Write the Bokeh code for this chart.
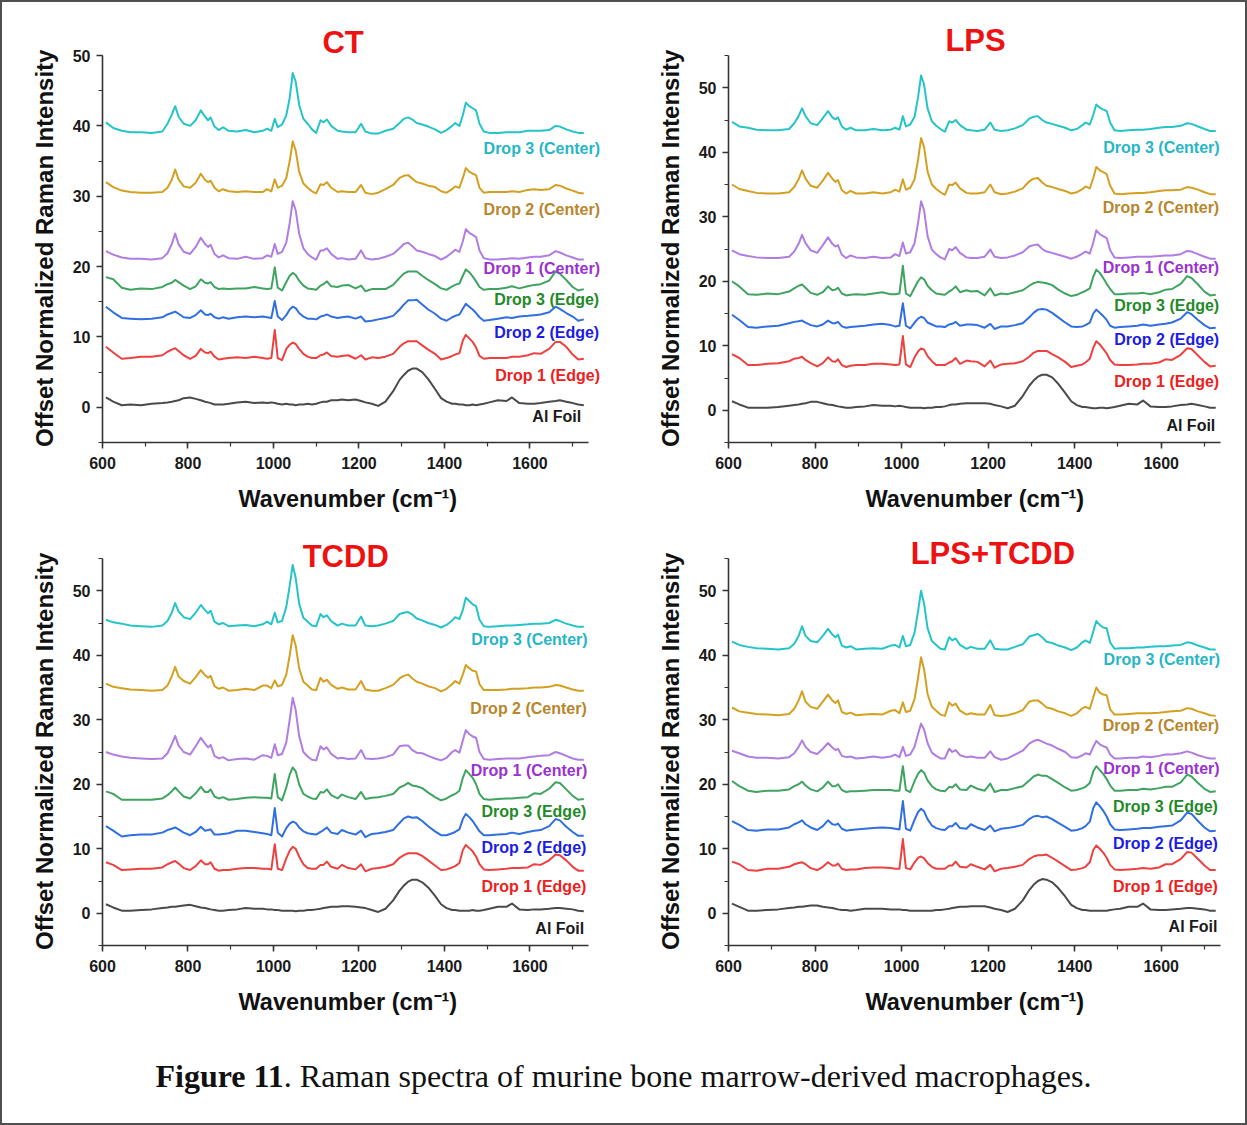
from bokeh.plotting import figure
from bokeh.models import Label, SingleIntervalTicker, Range1d, Div, Title
from bokeh.layouts import row, column
from bokeh.embed import file_html
from bokeh.resources import INLINE

# ---------------- data ----------------
WAVENUMBER = [608, 625, 645, 665, 690, 715, 740, 752, 762, 770,
              778, 790, 805, 818, 830, 840, 847, 853, 862, 872,
              882, 895, 915, 935, 955, 975, 985, 995, 1003, 1010,
              1020, 1030, 1038, 1045, 1052, 1060, 1070, 1080, 1090, 1100,
              1110, 1117, 1125, 1135, 1150, 1160, 1175, 1192, 1205, 1215,
              1230, 1245, 1262, 1280, 1295, 1305, 1315, 1325, 1335, 1348,
              1362, 1378, 1392, 1405, 1418, 1425, 1435, 1443, 1450, 1458,
              1466, 1474, 1482, 1492, 1505, 1525, 1545, 1558, 1575, 1595,
              1610, 1625, 1645, 1660, 1670, 1685, 1700, 1713, 1726]

SERIES_NAMES = ["Al Foil", "Drop 1 (Edge)", "Drop 2 (Edge)", "Drop 3 (Edge)",
                "Drop 1 (Center)", "Drop 2 (Center)", "Drop 3 (Center)"]

# ---- CT ----
CT_D3C = [40.5, 39.7, 39.3, 39.1, 39.1, 39.0, 39.2, 40.3, 41.6, 42.8,
          41.3, 40.3, 40.0, 40.8, 42.2, 41.3, 40.8, 41.2, 39.9, 39.4,
          39.8, 39.3, 39.2, 39.4, 39.1, 39.3, 39.6, 39.3, 41.0, 39.8,
          40.2, 41.5, 44.0, 47.5, 46.3, 43.0, 41.0, 40.3, 39.5, 39.0,
          40.8, 40.5, 40.9, 40.0, 39.3, 39.2, 39.1, 39.1, 40.3, 39.2,
          38.9, 38.9, 39.3, 39.6, 40.4, 41.0, 41.2, 40.9, 40.4, 40.2,
          39.9, 39.5, 39.0, 39.4, 40.0, 40.4, 40.0, 41.5, 43.3, 42.8,
          42.5, 42.2, 40.3, 39.2, 39.0, 39.0, 39.1, 39.1, 39.1, 39.3,
          39.3, 39.3, 39.4, 40.0, 39.9, 39.5, 39.2, 39.0, 39.0]
CT_D2C = [32.0, 31.3, 30.8, 30.6, 30.5, 30.5, 30.6, 31.2, 32.3, 33.8,
          32.4, 31.4, 31.2, 31.9, 33.2, 32.3, 32.0, 32.2, 31.2, 30.7,
          31.0, 30.7, 30.6, 30.7, 30.6, 30.6, 31.0, 30.7, 32.4, 31.2,
          31.5, 32.6, 35.0, 37.8, 36.5, 33.5, 31.8, 31.2, 30.7, 30.4,
          31.7, 31.6, 32.0, 31.2, 30.6, 30.7, 30.6, 30.6, 31.6, 30.5,
          30.3, 30.5, 31.0, 31.6, 32.6, 32.9, 33.0, 32.5, 32.0, 31.8,
          31.5, 31.3, 30.7, 30.5, 31.0, 31.4, 31.2, 32.6, 34.0, 33.5,
          33.2, 33.0, 31.2, 30.5, 30.6, 30.6, 30.6, 30.7, 30.6, 30.9,
          31.0, 30.9, 31.0, 31.6, 31.5, 31.1, 30.8, 30.5, 30.4]
CT_D1C = [22.2, 21.7, 21.3, 21.1, 21.1, 21.0, 21.2, 21.9, 23.2, 24.7,
          23.2, 22.1, 21.8, 22.8, 24.1, 23.2, 22.8, 23.1, 21.8, 21.3,
          21.6, 21.2, 21.1, 21.4, 21.1, 21.2, 21.6, 21.4, 23.2, 21.8,
          22.1, 23.4, 26.2, 29.3, 28.0, 24.7, 22.6, 21.8, 21.3, 21.0,
          22.3, 22.3, 22.6, 21.8, 21.1, 21.2, 21.0, 21.1, 22.3, 21.2,
          21.0, 21.1, 21.4, 21.8, 22.6, 23.2, 23.4, 22.9, 22.3, 22.1,
          21.8, 21.5, 21.0, 21.4, 22.0, 22.4, 22.1, 23.6, 25.3, 24.8,
          24.5, 24.2, 22.3, 21.2, 21.0, 21.0, 21.1, 21.2, 21.1, 21.3,
          21.4, 21.4, 21.6, 22.2, 22.0, 21.6, 21.3, 21.0, 21.0]
CT_D3E = [18.5, 18.2, 17.0, 16.7, 16.9, 16.8, 17.1, 17.5, 17.7, 18.1,
          17.8, 17.3, 16.8, 17.2, 18.2, 17.7, 17.6, 17.8, 17.1, 16.8,
          16.9, 16.8, 16.9, 16.9, 17.1, 16.9, 16.8, 16.9, 19.9, 17.0,
          16.6, 17.8, 18.7, 19.1, 18.8, 18.0, 17.3, 16.9, 16.8, 16.7,
          17.3, 17.5, 17.9, 17.2, 17.1, 17.3, 17.4, 16.9, 17.3, 16.5,
          16.8, 16.8, 16.8, 17.4, 18.4, 19.0, 19.3, 19.3, 19.3, 18.7,
          18.1, 17.5, 16.9, 16.7, 17.2, 17.4, 17.6, 18.7, 19.6, 19.2,
          18.6, 17.9, 17.1, 16.7, 16.8, 16.8, 17.0, 17.2, 16.9, 17.2,
          17.4, 17.5, 18.0, 19.3, 19.0, 18.1, 17.1, 16.6, 16.8]
CT_D2E = [14.3, 13.5, 12.7, 12.6, 12.5, 12.6, 12.8, 13.2, 13.4, 13.6,
          13.3, 12.8, 12.7, 13.1, 13.8, 13.2, 13.1, 13.3, 12.8, 12.6,
          12.8, 12.6, 12.8, 12.9, 12.8, 12.9, 12.8, 12.7, 15.1, 12.9,
          12.4, 13.1, 13.9, 14.3, 14.1, 13.4, 12.9, 12.6, 12.6, 12.5,
          12.9, 13.0, 13.2, 12.9, 12.7, 12.8, 12.9, 12.6, 12.9, 12.2,
          12.3, 12.5, 12.7, 13.0, 13.9, 14.6, 15.2, 15.2, 15.3, 14.6,
          13.9, 13.3, 12.6, 12.3, 12.8, 13.0, 13.2, 14.0, 14.7, 14.3,
          13.9, 13.4, 12.8, 12.3, 12.4, 12.6, 12.8, 12.7, 12.9, 13.0,
          13.1, 13.2, 13.5, 14.3, 14.0, 13.4, 12.9, 12.3, 12.5]
CT_D1E = [8.6, 7.8, 6.9, 7.0, 7.2, 7.2, 7.4, 7.9, 8.2, 8.4,
          8.0, 7.4, 6.9, 7.3, 8.3, 7.8, 7.7, 7.9, 7.2, 6.8,
          6.9, 7.0, 7.1, 7.0, 7.2, 7.0, 6.9, 7.0, 11.0, 7.0,
          6.7, 8.3, 8.9, 9.2, 9.0, 8.3, 7.6, 7.2, 7.0, 7.0,
          7.4, 7.5, 7.8, 7.3, 7.2, 7.3, 7.4, 6.9, 7.4, 6.8,
          7.1, 7.0, 7.2, 7.6, 8.6, 9.1, 9.4, 9.4, 9.4, 8.8,
          8.2, 7.6, 6.8, 7.0, 7.3, 7.5, 7.7, 9.5, 10.3, 9.8,
          9.3, 8.5, 7.3, 6.9, 7.0, 7.0, 7.0, 7.2, 7.2, 7.4,
          7.7, 7.6, 8.3, 9.3, 9.3, 8.6, 7.5, 6.8, 6.9]
CT_AL = [1.4, 0.8, 0.3, 0.4, 0.3, 0.5, 0.6, 0.7, 0.8, 0.9,
         1.0, 1.3, 1.4, 1.2, 1.0, 0.8, 0.7, 0.6, 0.4, 0.4,
         0.4, 0.5, 0.7, 0.8, 0.6, 0.7, 0.6, 0.7, 0.6, 0.5,
         0.4, 0.5, 0.4, 0.4, 0.3, 0.4, 0.4, 0.5, 0.4, 0.5,
         0.7, 0.8, 0.8, 1.0, 1.0, 1.1, 1.0, 1.1, 0.9, 0.7,
         0.5, 0.2, 0.8, 2.3, 3.9, 4.6, 5.2, 5.5, 5.5, 5.0,
         4.0, 2.6, 1.3, 0.8, 0.5, 0.5, 0.4, 0.4, 0.3, 0.3,
         0.4, 0.3, 0.4, 0.5, 0.7, 1.0, 0.9, 1.4, 0.6, 0.5,
         0.5, 0.6, 0.8, 0.9, 1.0, 0.8, 0.6, 0.4, 0.3]

# ---- LPS ----
LPS_D3C = [44.7, 44.0, 43.8, 43.5, 43.4, 43.4, 43.6, 44.5, 45.6, 46.8,
           45.6, 44.5, 44.2, 45.3, 46.4, 45.4, 45.1, 45.4, 44.0, 43.5,
           43.8, 43.4, 43.4, 43.6, 43.4, 43.5, 43.8, 43.5, 45.6, 44.0,
           44.3, 45.5, 48.5, 51.9, 50.5, 46.8, 44.8, 44.1, 43.6, 43.2,
           44.8, 44.6, 45.0, 44.2, 43.5, 43.4, 43.3, 43.5, 44.6, 43.5,
           43.3, 43.4, 43.7, 44.2, 45.2, 45.5, 45.6, 45.0, 44.6, 44.4,
           44.1, 43.8, 43.4, 43.6, 44.2, 44.6, 44.3, 45.8, 47.4, 46.9,
           46.6, 46.4, 44.6, 43.4, 43.3, 43.4, 43.5, 43.5, 43.6, 43.8,
           43.9, 43.9, 44.1, 44.5, 44.4, 44.0, 43.6, 43.3, 43.3]
LPS_D2C = [35.0, 34.3, 34.0, 33.7, 33.6, 33.6, 33.8, 34.6, 35.8, 37.2,
           35.9, 34.8, 34.5, 35.6, 36.8, 35.9, 35.4, 35.7, 34.1, 33.6,
           34.0, 33.6, 33.6, 33.8, 33.6, 33.8, 34.2, 33.9, 35.8, 34.2,
           34.5, 35.8, 38.8, 42.2, 40.8, 37.0, 35.0, 34.3, 33.8, 33.4,
           35.0, 34.9, 35.3, 34.4, 33.7, 33.6, 33.6, 33.8, 35.0, 33.8,
           33.5, 33.6, 33.9, 34.4, 35.5, 35.9, 36.0, 35.3, 34.8, 34.6,
           34.3, 34.0, 33.6, 33.8, 34.3, 34.7, 34.4, 36.0, 37.7, 37.2,
           36.9, 36.6, 34.8, 33.6, 33.5, 33.6, 33.7, 33.7, 33.8, 34.0,
           34.1, 34.1, 34.2, 34.6, 34.5, 34.2, 33.8, 33.5, 33.5]
LPS_D1C = [24.8, 24.2, 23.9, 23.7, 23.6, 23.6, 23.8, 24.6, 25.8, 27.2,
           25.9, 24.8, 24.4, 25.6, 26.8, 25.8, 25.4, 25.6, 24.1, 23.6,
           24.0, 23.7, 23.6, 23.8, 23.6, 23.7, 24.2, 23.9, 26.0, 24.3,
           24.5, 25.9, 29.0, 32.4, 31.0, 27.0, 24.9, 24.2, 23.7, 23.4,
           25.0, 24.8, 25.3, 24.4, 23.7, 23.6, 23.6, 23.8, 24.9, 23.8,
           23.6, 23.7, 24.0, 24.5, 25.4, 25.6, 25.7, 25.0, 24.6, 24.4,
           24.1, 23.8, 23.5, 23.8, 24.3, 24.6, 24.3, 26.0, 27.9, 27.3,
           27.0, 26.7, 24.8, 23.7, 23.6, 23.7, 23.8, 23.8, 23.8, 23.9,
           24.0, 24.0, 24.2, 24.7, 24.6, 24.2, 23.8, 23.5, 23.5]
LPS_D3E = [20.0, 19.2, 18.0, 17.9, 18.1, 18.0, 18.4, 18.9, 19.3, 19.5,
           19.0, 18.2, 17.9, 18.3, 19.2, 18.6, 18.7, 19.0, 18.1, 17.8,
           17.9, 18.0, 17.9, 18.1, 18.3, 18.0, 18.0, 18.1, 22.4, 18.1,
           17.7, 19.0, 20.0, 20.6, 20.3, 19.3, 18.6, 18.1, 18.0, 17.9,
           18.4, 18.7, 19.2, 18.3, 18.6, 18.4, 18.5, 17.8, 18.9, 17.8,
           18.1, 18.0, 18.3, 18.6, 19.3, 19.7, 19.9, 19.8, 19.7, 19.4,
           18.7, 18.1, 17.7, 17.9, 18.3, 18.5, 18.9, 20.7, 21.8, 21.3,
           20.5, 19.6, 18.8, 18.0, 18.0, 18.1, 18.1, 18.2, 18.0, 18.3,
           18.7, 18.8, 19.6, 20.8, 20.5, 19.5, 18.4, 17.8, 17.9]
LPS_D2E = [14.8, 14.0, 12.9, 12.8, 13.0, 13.1, 13.5, 13.7, 13.8, 13.9,
           13.6, 13.2, 13.0, 13.3, 13.9, 13.5, 13.5, 13.7, 13.0, 12.8,
           12.9, 13.0, 13.1, 13.3, 13.4, 13.2, 13.0, 13.1, 16.6, 13.1,
           12.7, 13.6, 14.2, 14.5, 14.3, 13.6, 13.3, 13.0, 13.0, 12.9,
           13.3, 13.4, 13.7, 13.1, 13.3, 13.3, 13.2, 12.8, 13.4, 12.6,
           13.0, 13.0, 13.2, 13.5, 14.4, 15.1, 15.6, 15.7, 15.6, 15.1,
           14.4, 13.6, 13.0, 12.9, 13.0, 13.2, 13.6, 15.0, 15.6, 15.1,
           14.6, 14.0, 13.1, 12.8, 12.9, 13.0, 13.1, 13.3, 13.1, 13.3,
           13.4, 13.6, 14.2, 15.2, 14.9, 14.0, 13.2, 12.7, 12.8]
LPS_D1E = [8.7, 8.1, 7.0, 7.0, 7.2, 7.3, 7.6, 8.0, 8.1, 8.3,
           7.8, 7.3, 6.8, 7.3, 8.2, 7.6, 7.5, 7.9, 7.0, 6.7,
           6.9, 7.0, 7.0, 7.2, 7.2, 7.1, 7.0, 7.1, 11.5, 7.1,
           6.7, 8.2, 9.1, 9.6, 9.4, 8.4, 7.6, 7.0, 7.0, 7.0,
           7.4, 7.6, 8.1, 7.2, 7.7, 7.6, 7.5, 6.8, 7.7, 6.6,
           7.1, 7.2, 7.3, 7.6, 8.3, 8.9, 9.2, 9.2, 9.2, 8.7,
           8.2, 7.5, 6.7, 6.9, 7.1, 7.4, 8.0, 9.7, 10.7, 10.2,
           9.5, 8.8, 7.8, 7.1, 7.0, 7.0, 7.1, 7.2, 7.2, 7.4,
           7.9, 7.8, 8.6, 9.6, 9.5, 8.5, 7.5, 6.8, 6.9]
LPS_AL = [1.4, 0.9, 0.4, 0.4, 0.4, 0.5, 0.7, 0.8, 0.9, 1.0,
          1.1, 1.3, 1.3, 1.1, 0.9, 0.8, 0.7, 0.6, 0.5, 0.4,
          0.4, 0.5, 0.6, 0.8, 0.7, 0.7, 0.6, 0.7, 0.6, 0.5,
          0.4, 0.4, 0.4, 0.4, 0.3, 0.4, 0.4, 0.5, 0.5, 0.6,
          0.8, 0.9, 0.9, 1.0, 1.1, 1.1, 1.1, 1.1, 1.0, 0.8,
          0.6, 0.3, 0.7, 2.2, 3.8, 4.6, 5.2, 5.5, 5.5, 5.1,
          4.1, 2.7, 1.4, 0.8, 0.5, 0.5, 0.4, 0.3, 0.3, 0.4,
          0.4, 0.3, 0.4, 0.5, 0.7, 1.0, 0.9, 1.5, 0.6, 0.5,
          0.5, 0.6, 0.8, 0.9, 1.0, 0.8, 0.6, 0.4, 0.4]

# ---- TCDD ----
TCDD_D3C = [45.5, 45.1, 44.9, 44.6, 44.5, 44.4, 44.6, 45.3, 46.6, 48.1,
            46.8, 45.9, 45.6, 46.6, 47.8, 47.0, 46.5, 46.9, 45.2, 44.8,
            45.0, 44.5, 44.6, 44.7, 44.5, 44.8, 45.2, 44.8, 46.6, 45.1,
            45.3, 47.5, 50.8, 54.0, 52.0, 48.0, 45.8, 45.2, 44.6, 44.5,
            46.4, 45.9, 46.2, 45.3, 44.6, 44.9, 44.6, 44.6, 46.0, 44.6,
            44.5, 44.6, 44.9, 45.3, 46.4, 46.6, 46.7, 46.3, 45.7, 45.4,
            45.0, 44.7, 44.3, 44.7, 45.4, 45.9, 45.6, 47.0, 48.9, 48.4,
            47.9, 47.6, 45.5, 44.5, 44.4, 44.5, 44.6, 44.6, 44.7, 44.8,
            44.9, 44.9, 45.0, 45.5, 45.3, 44.9, 44.6, 44.4, 44.4]
TCDD_D2C = [35.6, 35.1, 34.9, 34.7, 34.6, 34.5, 34.6, 35.3, 36.7, 38.2,
            36.7, 36.0, 35.6, 36.6, 37.7, 36.9, 36.5, 36.8, 35.2, 34.8,
            35.0, 34.5, 34.6, 34.8, 34.6, 35.3, 35.3, 34.9, 36.1, 35.2,
            35.4, 37.0, 40.0, 43.1, 41.5, 38.0, 35.9, 35.3, 34.7, 34.6,
            36.5, 35.9, 36.2, 35.4, 34.8, 35.0, 34.7, 34.7, 36.0, 34.7,
            34.5, 34.5, 34.9, 35.4, 36.4, 36.8, 37.0, 36.4, 35.9, 35.6,
            35.2, 34.9, 34.4, 34.8, 35.5, 36.0, 35.6, 37.0, 38.5, 38.0,
            37.6, 37.5, 35.5, 34.6, 34.6, 34.6, 34.7, 34.8, 34.8, 34.9,
            35.0, 35.0, 35.1, 35.4, 35.3, 35.0, 34.7, 34.5, 34.5]
TCDD_D1C = [25.0, 24.6, 24.3, 24.1, 24.0, 23.9, 24.0, 24.8, 26.2, 27.5,
            26.0, 25.0, 24.6, 25.9, 27.2, 26.3, 25.7, 26.1, 24.4, 24.0,
            24.2, 23.7, 23.9, 24.0, 23.8, 24.5, 24.4, 24.1, 26.2, 24.5,
            24.7, 26.5, 30.0, 33.4, 31.5, 27.5, 25.0, 24.3, 23.8, 23.7,
            25.9, 25.4, 25.7, 24.7, 24.0, 24.1, 23.9, 24.0, 25.3, 24.0,
            23.9, 24.0, 24.2, 24.6, 25.9, 26.0, 26.0, 25.3, 24.9, 24.8,
            24.4, 24.0, 23.7, 24.1, 25.0, 25.3, 24.9, 26.8, 28.4, 27.8,
            27.4, 27.2, 25.0, 23.9, 23.8, 23.9, 24.0, 24.0, 24.0, 24.2,
            24.3, 24.4, 24.5, 25.0, 24.8, 24.4, 24.0, 23.8, 23.8]
TCDD_D3E = [18.9, 18.5, 17.6, 17.6, 17.6, 17.6, 17.8, 18.3, 18.9, 19.5,
            18.9, 18.1, 17.8, 18.6, 19.6, 18.8, 18.8, 19.2, 18.1, 17.8,
            18.0, 17.6, 17.7, 17.9, 18.0, 17.9, 17.9, 17.8, 21.6, 18.0,
            17.5, 19.5, 21.5, 22.6, 22.0, 20.0, 18.5, 18.1, 17.8, 17.7,
            18.8, 18.7, 19.2, 18.3, 17.8, 18.4, 18.0, 17.7, 18.8, 17.7,
            17.9, 18.0, 18.2, 18.5, 19.5, 19.8, 20.2, 19.8, 19.7, 19.4,
            18.7, 18.0, 17.5, 17.8, 18.3, 18.5, 19.0, 21.0, 22.2, 21.6,
            21.0, 20.0, 18.5, 17.7, 17.6, 17.7, 17.8, 17.8, 17.9, 18.0,
            18.6, 18.5, 19.3, 20.3, 20.2, 19.2, 18.2, 17.6, 17.7]
TCDD_D2E = [13.5, 12.8, 11.9, 12.1, 12.2, 12.2, 12.5, 12.9, 13.1, 13.3,
            13.0, 12.5, 12.1, 12.6, 13.4, 12.8, 12.9, 13.0, 12.2, 12.2,
            12.3, 12.4, 12.8, 12.8, 12.6, 12.4, 12.3, 12.1, 16.3, 12.5,
            11.9, 13.2, 13.9, 14.2, 14.0, 13.3, 12.7, 12.4, 12.3, 12.2,
            12.6, 12.9, 13.3, 12.5, 12.3, 12.9, 12.5, 12.2, 12.8, 11.8,
            12.3, 12.4, 12.6, 12.9, 14.0, 14.7, 15.0, 14.8, 14.9, 14.3,
            13.5, 12.7, 12.1, 12.1, 12.4, 12.6, 13.0, 14.6, 15.4, 14.9,
            14.3, 13.5, 12.7, 12.1, 12.1, 12.2, 12.3, 12.5, 12.3, 12.6,
            12.8, 12.9, 13.5, 14.6, 14.4, 13.4, 12.6, 12.0, 12.0]
TCDD_D1E = [7.9, 7.5, 6.7, 6.8, 6.9, 6.9, 7.1, 7.6, 7.9, 8.1,
            7.7, 7.0, 6.7, 7.3, 8.2, 7.6, 7.6, 7.9, 6.9, 6.6,
            6.7, 6.7, 6.9, 7.0, 7.0, 6.9, 6.9, 6.8, 10.7, 6.9,
            6.7, 8.5, 9.7, 10.3, 10.0, 8.8, 7.6, 7.0, 6.9, 6.9,
            7.5, 7.5, 8.0, 7.2, 6.9, 7.5, 7.0, 6.8, 7.6, 6.5,
            6.9, 7.0, 7.2, 7.6, 8.6, 9.0, 9.3, 9.3, 9.3, 8.9,
            8.2, 7.4, 6.7, 6.8, 7.1, 7.3, 7.8, 9.8, 10.6, 10.1,
            9.6, 8.8, 7.6, 6.8, 6.7, 6.8, 6.9, 7.0, 7.0, 7.1,
            7.6, 7.5, 8.2, 9.1, 9.0, 8.2, 7.2, 6.6, 6.6]
TCDD_AL = [1.4, 0.9, 0.4, 0.4, 0.5, 0.6, 0.8, 0.9, 1.0, 1.0,
           1.1, 1.2, 1.3, 1.1, 0.9, 0.8, 0.7, 0.6, 0.5, 0.4,
           0.4, 0.5, 0.6, 0.8, 0.7, 0.7, 0.6, 0.6, 0.5, 0.5,
           0.4, 0.4, 0.4, 0.4, 0.3, 0.4, 0.4, 0.5, 0.5, 0.6,
           0.7, 0.8, 0.9, 1.0, 1.0, 1.1, 1.1, 1.0, 0.9, 0.8,
           0.5, 0.2, 0.7, 2.0, 3.5, 4.3, 4.9, 5.2, 5.2, 4.8,
           4.0, 2.7, 1.4, 0.8, 0.5, 0.5, 0.4, 0.4, 0.4, 0.4,
           0.5, 0.4, 0.4, 0.5, 0.7, 1.0, 1.0, 1.5, 0.6, 0.5,
           0.6, 0.6, 0.7, 0.8, 0.8, 0.7, 0.6, 0.4, 0.3]

# ---- LPS+TCDD ----
LT_D3C = [42.1, 41.6, 41.3, 41.1, 41.0, 40.9, 41.1, 41.8, 43.0, 44.5,
          43.0, 42.2, 42.0, 43.0, 44.1, 43.2, 42.8, 43.2, 41.5, 41.2,
          41.4, 40.9, 41.0, 41.1, 41.0, 41.5, 41.6, 41.2, 43.0, 41.4,
          41.6, 43.5, 46.8, 50.0, 48.0, 44.2, 42.2, 41.6, 41.0, 40.9,
          42.8, 42.3, 42.6, 41.6, 41.0, 41.3, 41.0, 41.0, 42.3, 41.0,
          40.9, 40.9, 41.3, 41.7, 42.9, 43.1, 43.3, 42.8, 42.1, 41.9,
          41.5, 41.2, 40.8, 41.2, 42.0, 42.3, 41.9, 43.7, 45.3, 44.7,
          44.3, 44.2, 42.0, 41.0, 41.1, 41.1, 41.2, 41.2, 41.3, 41.4,
          41.4, 41.5, 41.6, 42.0, 41.9, 41.5, 41.2, 40.9, 40.9]
LT_D2C = [31.9, 31.3, 31.1, 30.9, 30.8, 30.7, 30.9, 31.7, 33.0, 34.4,
          32.8, 32.0, 31.7, 32.8, 33.9, 33.0, 32.6, 33.0, 31.2, 30.9,
          31.1, 30.7, 30.8, 30.9, 30.8, 31.4, 31.5, 31.0, 32.7, 31.2,
          31.4, 33.2, 36.5, 39.7, 37.8, 34.0, 32.0, 31.4, 30.8, 30.6,
          32.7, 32.2, 32.5, 31.4, 30.8, 31.0, 30.8, 30.8, 32.3, 30.7,
          30.6, 30.7, 31.0, 31.5, 32.8, 33.0, 33.0, 32.5, 31.9, 31.7,
          31.3, 31.0, 30.6, 31.0, 31.8, 32.0, 31.7, 33.5, 35.0, 34.2,
          33.9, 33.8, 31.6, 30.8, 30.8, 30.9, 31.0, 31.0, 31.0, 31.1,
          31.2, 31.3, 31.4, 31.8, 31.7, 31.3, 31.0, 30.7, 30.6]
LT_D1C = [25.2, 24.8, 24.3, 24.1, 24.1, 24.0, 24.2, 24.8, 25.8, 26.8,
          25.8, 25.0, 24.7, 25.5, 26.4, 25.7, 25.3, 25.5, 24.4, 24.2,
          24.3, 24.0, 24.1, 24.3, 24.1, 24.3, 24.6, 24.2, 25.8, 24.4,
          24.6, 25.8, 27.8, 29.4, 28.5, 26.4, 24.9, 24.4, 24.0, 24.0,
          25.5, 25.0, 25.3, 24.5, 24.2, 24.3, 24.1, 24.1, 25.1, 24.2,
          23.8, 24.0, 24.6, 25.2, 26.3, 26.7, 26.9, 26.6, 26.3, 26.0,
          25.5, 25.0, 24.2, 24.1, 24.5, 24.8, 24.6, 25.8, 26.7, 26.2,
          25.9, 25.7, 24.6, 24.0, 24.0, 24.1, 24.1, 24.3, 24.2, 24.4,
          24.6, 24.6, 24.8, 25.1, 24.9, 24.5, 24.2, 24.0, 24.0]
LT_D3E = [20.5, 19.7, 19.0, 18.8, 19.0, 19.0, 19.2, 19.7, 20.0, 20.4,
          19.8, 19.2, 18.9, 19.5, 20.4, 19.7, 19.7, 20.0, 19.1, 18.8,
          18.9, 18.9, 19.0, 19.1, 19.1, 19.1, 19.0, 19.0, 22.8, 19.1,
          18.8, 20.5, 21.6, 22.2, 21.8, 20.6, 19.7, 19.2, 19.0, 18.9,
          19.6, 19.5, 20.0, 19.2, 19.1, 19.8, 19.3, 19.0, 20.1, 18.8,
          19.1, 19.1, 19.4, 19.7, 20.6, 21.2, 21.5, 21.3, 21.3, 20.8,
          20.2, 19.5, 19.0, 19.1, 19.4, 19.6, 20.2, 22.0, 22.8, 22.2,
          21.6, 20.8, 19.8, 19.0, 19.0, 19.1, 19.1, 19.3, 19.2, 19.4,
          19.6, 19.6, 20.3, 21.5, 21.2, 20.2, 19.3, 18.8, 18.9]
LT_D2E = [14.3, 13.7, 12.9, 12.8, 13.0, 13.0, 13.3, 13.8, 14.1, 14.4,
          13.8, 13.3, 12.9, 13.5, 14.4, 13.8, 13.7, 13.9, 13.1, 12.8,
          12.9, 13.0, 13.1, 13.2, 13.3, 13.2, 13.1, 13.0, 17.4, 13.1,
          12.8, 14.5, 15.7, 16.2, 15.8, 14.6, 13.6, 13.2, 13.0, 12.9,
          13.5, 13.5, 14.0, 13.2, 13.1, 13.8, 13.3, 12.9, 13.6, 12.7,
          13.1, 13.2, 13.4, 13.7, 14.6, 15.0, 15.1, 14.9, 15.0, 14.6,
          14.0, 13.4, 12.8, 12.9, 13.2, 13.5, 14.2, 16.3, 17.2, 16.6,
          15.9, 15.0, 13.8, 13.0, 12.9, 13.0, 13.1, 13.2, 13.2, 13.4,
          13.5, 13.6, 14.4, 15.6, 15.4, 14.3, 13.3, 12.7, 12.8]
LT_D1E = [8.0, 7.6, 6.7, 6.6, 6.9, 6.9, 7.2, 7.6, 7.8, 7.9,
          7.6, 7.0, 6.7, 7.2, 7.9, 7.4, 7.4, 7.7, 6.9, 6.7,
          6.8, 6.8, 7.0, 7.1, 7.1, 7.0, 6.9, 6.9, 11.5, 7.0,
          6.8, 7.9, 8.6, 8.8, 8.5, 7.8, 7.2, 6.9, 6.9, 6.9,
          7.4, 7.4, 8.0, 7.2, 7.1, 7.6, 7.2, 6.8, 7.5, 6.5,
          6.9, 7.0, 7.2, 7.5, 8.4, 8.8, 9.0, 9.0, 9.1, 8.6,
          8.0, 7.3, 6.7, 6.8, 7.0, 7.2, 7.9, 9.8, 10.5, 10.0,
          9.4, 8.6, 7.5, 6.8, 6.7, 6.8, 6.9, 7.0, 6.9, 7.1,
          7.6, 7.6, 8.4, 9.5, 9.4, 8.4, 7.4, 6.7, 6.7]
LT_AL = [1.5, 1.0, 0.4, 0.4, 0.5, 0.6, 0.8, 0.9, 1.0, 1.0,
         1.1, 1.2, 1.2, 1.0, 0.9, 0.8, 0.7, 0.6, 0.5, 0.5,
         0.4, 0.5, 0.7, 0.7, 0.7, 0.6, 0.6, 0.6, 0.5, 0.5,
         0.4, 0.4, 0.4, 0.4, 0.4, 0.4, 0.4, 0.5, 0.5, 0.6,
         0.7, 0.8, 0.9, 1.0, 1.0, 1.1, 1.1, 1.1, 0.9, 0.7,
         0.5, 0.2, 0.7, 2.0, 3.6, 4.4, 5.0, 5.3, 5.2, 4.8,
         3.9, 2.6, 1.3, 0.8, 0.5, 0.5, 0.4, 0.4, 0.4, 0.4,
         0.4, 0.4, 0.5, 0.6, 0.7, 1.0, 1.0, 1.5, 0.6, 0.5,
         0.5, 0.6, 0.7, 0.8, 0.8, 0.7, 0.6, 0.4, 0.4]

PANEL_TITLES = ["CT", "LPS", "TCDD", "LPS+TCDD"]
PANEL_SERIES = [
    [CT_AL, CT_D1E, CT_D2E, CT_D3E, CT_D1C, CT_D2C, CT_D3C],
    [LPS_AL, LPS_D1E, LPS_D2E, LPS_D3E, LPS_D1C, LPS_D2C, LPS_D3C],
    [TCDD_AL, TCDD_D1E, TCDD_D2E, TCDD_D3E, TCDD_D1C, TCDD_D2C, TCDD_D3C],
    [LT_AL, LT_D1E, LT_D2E, LT_D3E, LT_D1C, LT_D2C, LT_D3C],
]
X_AXIS_START, X_AXIS_END = 600, 1737
Y_AXIS_START = -5
PANEL_YMAX = [50, 55, 55, 55]

# ---------------- styling / layout ----------------
LINE_COLORS = ["#4a4a4a", "#ef4040", "#2f6fe2", "#3fa460", "#b07de2", "#d4a021", "#25c4c8"]
TEXT_COLORS = ["#1a1a1a", "#ee2020", "#1c1ce6", "#1f8a28", "#9a32d2", "#b8862c", "#27b6c6"]
FONT = "Liberation Sans"
ROW1_H, ROW2_H, CAPTION_H = 530, 515, 80
COL1_W, COL2_W = 624, 623

# page geometry: figure origin, axis pixel box (left, right, top, bottom)
PANEL_LAYOUT = [
    dict(fx=0, fy=0, w=COL1_W, h=ROW1_H, ax=(102, 588, 55, 442),
         lab_x=[1720, 1764, 1762, 1762, 1764, 1764, 1764],
         lab_y=[-1.3, 4.5, 10.6, 15.3, 19.7, 28.1, 36.8], title_xy=(1163, 51.85)),
    dict(fx=COL1_W, fy=0, w=COL2_W, h=ROW1_H, ax=(728, 1220, 55, 442),
         lab_x=[1725, 1734, 1734, 1734, 1734, 1734, 1735],
         lab_y=[-2.3, 4.5, 11.0, 16.3, 22.2, 31.4, 40.8], title_xy=(1171, 57.3)),
    dict(fx=0, fy=ROW1_H, w=COL1_W, h=ROW2_H, ax=(102, 588, 558, 945),
         lab_x=[1727, 1732, 1732, 1732, 1734, 1733, 1735],
         lab_y=[-2.3, 4.1, 10.2, 15.8, 22.1, 31.8, 42.4], title_xy=(1169, 55.3)),
    dict(fx=COL1_W, fy=ROW1_H, w=COL2_W, h=ROW2_H, ax=(728, 1220, 558, 945),
         lab_x=[1730, 1731, 1731, 1731, 1735, 1734, 1736],
         lab_y=[-2.0, 4.1, 10.8, 16.6, 22.4, 29.1, 39.4], title_xy=(1211, 55.8)),
]
XLABEL_CENTER_OFFSET = [245, 246, 245, 246]   # px from axis left to label centre
XLABEL_HALF_WIDTH = 109
YLABEL_HALF_LEN = 198


def make_panel(title, series, ymax, lay, xlab_c):
    axl, axr, axt, axb = lay["ax"]
    frame_top = lay["fy"] + 6
    frame_right = lay["fx"] + lay["w"] - 3
    ux = (X_AXIS_END - X_AXIS_START) / (axr - axl)
    uy = (ymax - Y_AXIS_START) / (axb - axt)
    x_end = X_AXIS_START + (frame_right - axl) * ux
    y_top = Y_AXIS_START + (axb - frame_top) * uy

    p = figure(width=lay["w"], height=lay["h"],
               x_range=Range1d(X_AXIS_START, x_end), y_range=Range1d(Y_AXIS_START, y_top),
               output_backend="svg", toolbar_location=None,
               min_border_left=axl - lay["fx"], min_border_right=3,
               min_border_top=6, min_border_bottom=lay["fy"] + lay["h"] - axb)
    p.outline_line_color = None
    p.xgrid.visible = False
    p.ygrid.visible = False

    for vals, col in zip(series, LINE_COLORS):
        p.line(WAVENUMBER, vals, line_color=col, line_width=2, line_join="round")

    p.xaxis.ticker = SingleIntervalTicker(interval=200, num_minor_ticks=2)
    p.yaxis.ticker = SingleIntervalTicker(interval=10, num_minor_ticks=2)
    p.xaxis.bounds = (X_AXIS_START, X_AXIS_END)
    p.yaxis.bounds = (Y_AXIS_START, ymax)
    for ax in (p.xaxis[0], p.yaxis[0]):
        ax.axis_line_color = "#333333"
        ax.axis_line_width = 1.6
        ax.major_tick_line_color = "#333333"
        ax.minor_tick_line_color = "#333333"
        ax.major_tick_line_width = 1.5
        ax.minor_tick_line_width = 1.2
        ax.major_tick_out = 6
        ax.major_tick_in = 0
        ax.minor_tick_out = 4
        ax.minor_tick_in = 0
        ax.major_label_text_font = FONT
        ax.major_label_text_font_style = "bold"
        ax.major_label_text_font_size = "16px"
        ax.major_label_text_color = "#1a1a1a"
    p.xaxis.major_label_standoff = 8
    p.yaxis.major_label_standoff = 6

    # axis titles (placed in the side panels so that they are not clipped)
    xt = Title(text="Wavenumber (cm\u207b\u00b9)", align="left",
               offset=xlab_c - XLABEL_HALF_WIDTH, vertical_align="bottom",
               standoff=24, text_font=FONT, text_font_style="bold",
               text_font_size="23.5px", text_color="#111111")
    p.add_layout(xt, "below")
    yt = Title(text="Offset Normalized Raman Intensity", align="left",
               offset=(axb - axt) / 2 - YLABEL_HALF_LEN, vertical_align="bottom",
               standoff=24, text_font=FONT, text_font_style="bold",
               text_font_size="24px", text_color="#111111")
    p.add_layout(yt, "left")

    for name, lx, ly, tcol in zip(SERIES_NAMES, lay["lab_x"], lay["lab_y"], TEXT_COLORS):
        p.add_layout(Label(x=lx, y=ly, text=name, text_align="right",
                           text_baseline="middle", text_color=tcol,
                           text_font=FONT, text_font_style="bold",
                           text_font_size="16px"))
    tx, ty = lay["title_xy"]
    p.add_layout(Label(x=tx, y=ty, text=title, text_align="center",
                       text_baseline="middle", text_color="#ee1111",
                       text_font=FONT, text_font_style="bold",
                       text_font_size="31px"))
    return p


panels = [make_panel(t, s, ym, l, xc) for t, s, ym, l, xc in
          zip(PANEL_TITLES, PANEL_SERIES, PANEL_YMAX, PANEL_LAYOUT, XLABEL_CENTER_OFFSET)]

caption = Div(
    text=('<div style="position:fixed;left:0;top:0;width:1247px;height:1125px;'
          'box-sizing:border-box;border:2px solid #505050;pointer-events:none;z-index:1000;"></div>'
          '<div style="font-family:\'Liberation Serif\',\'Times New Roman\',serif;'
          'font-size:32px;line-height:32px;color:#111;text-align:center;'
          'width:1237px;padding-top:10px;">'
          '<b>Figure 11</b>. Raman spectra of murine bone marrow-derived macrophages.'
          '</div>'),
    width=1247, height=CAPTION_H)

layout = column(row(panels[0], panels[1]), row(panels[2], panels[3]), caption)

open("out.html", "w").write(file_html(layout, INLINE))
